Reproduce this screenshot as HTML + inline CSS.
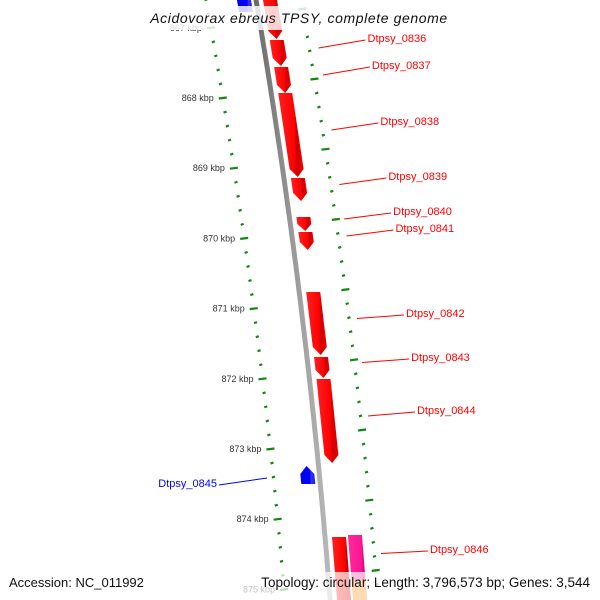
<!DOCTYPE html>
<html><head><meta charset="utf-8"><style>
html,body{margin:0;padding:0;background:#fff;width:600px;height:600px;overflow:hidden}
svg{display:block}
text{font-family:"Liberation Sans","DejaVu Sans",sans-serif}
</style></head><body>
<svg id="map" width="600" height="600" viewBox="0 0 600 600" xmlns="http://www.w3.org/2000/svg" style="overflow:hidden">
<defs>
<clipPath id="frame"><rect x="0" y="0" width="600" height="600"/></clipPath>
<linearGradient id="gRed" x1="0" x2="1" y1="0" y2="0"><stop offset="0" stop-color="#ff2020"/><stop offset="0.65" stop-color="#ff0000"/><stop offset="0.7" stop-color="#cc0000"/><stop offset="1" stop-color="#ee0000"/></linearGradient>
<linearGradient id="gBlue" x1="0" x2="1" y1="0" y2="0"><stop offset="0" stop-color="#0000ee"/><stop offset="0.65" stop-color="#0000ff"/><stop offset="0.7" stop-color="#3030ff"/><stop offset="1" stop-color="#2020dd"/></linearGradient>
<linearGradient id="gPink" x1="0" x2="1" y1="0" y2="0"><stop offset="0" stop-color="#ff2a9a"/><stop offset="0.7" stop-color="#ff1493"/><stop offset="0.72" stop-color="#d01078"/><stop offset="1" stop-color="#e01088"/></linearGradient>
<linearGradient id="gBack" x1="0" x2="1" y1="0" y2="0"><stop offset="0" stop-color="#666"/><stop offset="0.5" stop-color="#999"/><stop offset="1" stop-color="#bbb"/></linearGradient>
</defs>
<g clip-path="url(#frame)">
<g id="ticks"></g>
<g id="back"></g>
<g id="genes"></g>
<g id="labels"></g>
</g>
<rect x="140" y="6" width="320" height="24" fill="#fff" opacity="0.82"/>
<text x="299" y="23" text-anchor="middle" font-size="14" font-style="italic" letter-spacing="0.6" fill="#111">Acidovorax ebreus TPSY, complete genome</text>
<rect x="0" y="572" width="600" height="28" fill="#fff" opacity="0.7"/>
<text x="9" y="587" font-size="13" fill="#111">Accession: NC_011992</text>
<text x="590" y="587" text-anchor="end" font-size="13.5" fill="#111">Topology: circular; Length: 3,796,573 bp; Genes: 3,544</text>
</svg>
<script>
const geneNames=["","Dtpsy_0836","Dtpsy_0837","Dtpsy_0838","Dtpsy_0839","Dtpsy_0840","Dtpsy_0841","Dtpsy_0842","Dtpsy_0843","Dtpsy_0844","Dtpsy_0845","Dtpsy_0846","","",""];
const geneStarts=[866.46,867.174,867.558,867.929,869.140,869.695,869.909,870.764,871.689,872.003,873.242,874.254,866.46,874.225,874.866];
const geneEnds=[867.160,867.544,867.929,869.125,869.467,869.895,870.165,871.661,871.989,873.199,873.499,875.436,866.775,875.436,875.436];
const geneStrand=[1,1,1,1,1,1,1,1,1,1,-1,1,-1,1,1];
const geneTrack=[0,0,0,0,0,0,0,0,0,0,0,0,0,1,1];
const geneColor=["red","red","red","red","red","red","red","red","red","red","blue","red","blue","pink","orange"];
const majorTicks=[867,868,869,870,871,872,873,874,875];
const tickLabels=["867 kbp","868 kbp","869 kbp","870 kbp","871 kbp","872 kbp","873 kbp","874 kbp","875 kbp"];
const labelY=[0,38,65,121,176,211,228,313,357,410,483,549,0,0,0];

const NS="http://www.w3.org/2000/svg";
function Y(k){return 98+(k-868)*70.2;}
function bx(y){return 256+0.171*y-7.9e-5*y*y;}
function P(y,o){return (bx(y)+o).toFixed(1)+","+y.toFixed(1);}
function mk(tag,attrs,parent){const e=document.createElementNS(NS,tag);for(const k in attrs)e.setAttribute(k,attrs[k]);parent.appendChild(e);return e;}

const back=document.getElementById('back');
let pts=[];for(let y=-5;y<=600;y+=5)pts.push(P(y,-2.5));for(let y=600;y>=-5;y-=5)pts.push(P(y,2.5));
const bb=mk('polygon',{points:pts.join(' '),fill:'url(#gBack)'},back);



const tg=document.getElementById('ticks');
for(let k=866.4;k<=875.61;k+=0.2){
  const kk=Math.round(k*10)/10;
  const major=Math.abs(kk-Math.round(kk))<0.01;
  const yl=Y(kk), yr=yl-19;
  const ol=-50+yl*0.008, or=45+yr*0.005;
  const len=major?8:3;
  if(yl>=-2&&yl<=598){
    const l=mk('line',{x1:bx(yl)+ol-len/2,y1:yl+0.5,x2:bx(yl)+ol+len/2,y2:yl-0.5,stroke:'#118811','stroke-width':2.2},tg);
    
    
  }
  if(yr>=-2&&yr<=598){
    const r=mk('line',{x1:bx(yr)+or-len/2,y1:yr+0.5,x2:bx(yr)+or+len/2,y2:yr-0.5,stroke:'#118811','stroke-width':2.2},tg);
    
    
  }
}
majorTicks.forEach((k,i)=>{
  const y=Y(k);const x=bx(y)-50+y*0.008-9;
  const t=mk('text',{x:x,y:y+3,'text-anchor':'end','font-size':9,fill:'#333'},tg);
  t.textContent=tickLabels[i];
  
  
});

const gg=document.getElementById('genes');
const fills={red:'url(#gRed)',blue:'url(#gBlue)',pink:'url(#gPink)',orange:'#ff8800'};
for(let i=0;i<geneStarts.length;i++){
  const y0=Y(geneStarts[i]),y1=Y(geneEnds[i]);
  let a,b;
  if(geneStrand[i]>0){a=geneTrack[i]?23:7;b=a+14;}else{a=-19;b=-5;}
  const m=(a+b)/2, ah=Math.min(8,(y1-y0)*0.5);
  let p;
  if(geneStrand[i]>0) p=[P(y0,a),P(y0,b),P(y1-ah,b),P(y1,m),P(y1-ah,a)];
  else p=[P(y0+ah,a),P(y0,m),P(y0+ah,b),P(y1,b),P(y1,a)];
  const g=mk('polygon',{points:p.join(' '),fill:fills[geneColor[i]]},gg);
  
  
}

const lg=document.getElementById('labels');
for(let i=0;i<geneNames.length;i++){
  if(!geneNames[i])continue;
  const y0=Y(geneStarts[i]),y1=Math.min(Y(geneEnds[i]),580);
  const mid=(y0+y1)/2;
  const ty=labelY[i];
  const col=geneStrand[i]>0?'#ff0000':'#0000ff';
  let x1,x2,tx,anchor,ym;
  if(geneStrand[i]>0){ym=mid-5;x1=bx(ym)+54.5;x2=x1+47;tx=x2+2;anchor='start';}
  else{ym=mid+3;x1=bx(ym)-52.7;x2=x1-48;tx=x2-2;anchor='end';}
  const ln=mk('line',{x1:x1,y1:ym,x2:x2,y2:ty+2,stroke:col,'stroke-width':1},lg);
  
  
  const t=mk('text',{x:tx,y:ty+4,'text-anchor':anchor,'font-size':11,fill:col},lg);
  t.textContent=geneNames[i];
  
  
}
</script>
</body></html>
